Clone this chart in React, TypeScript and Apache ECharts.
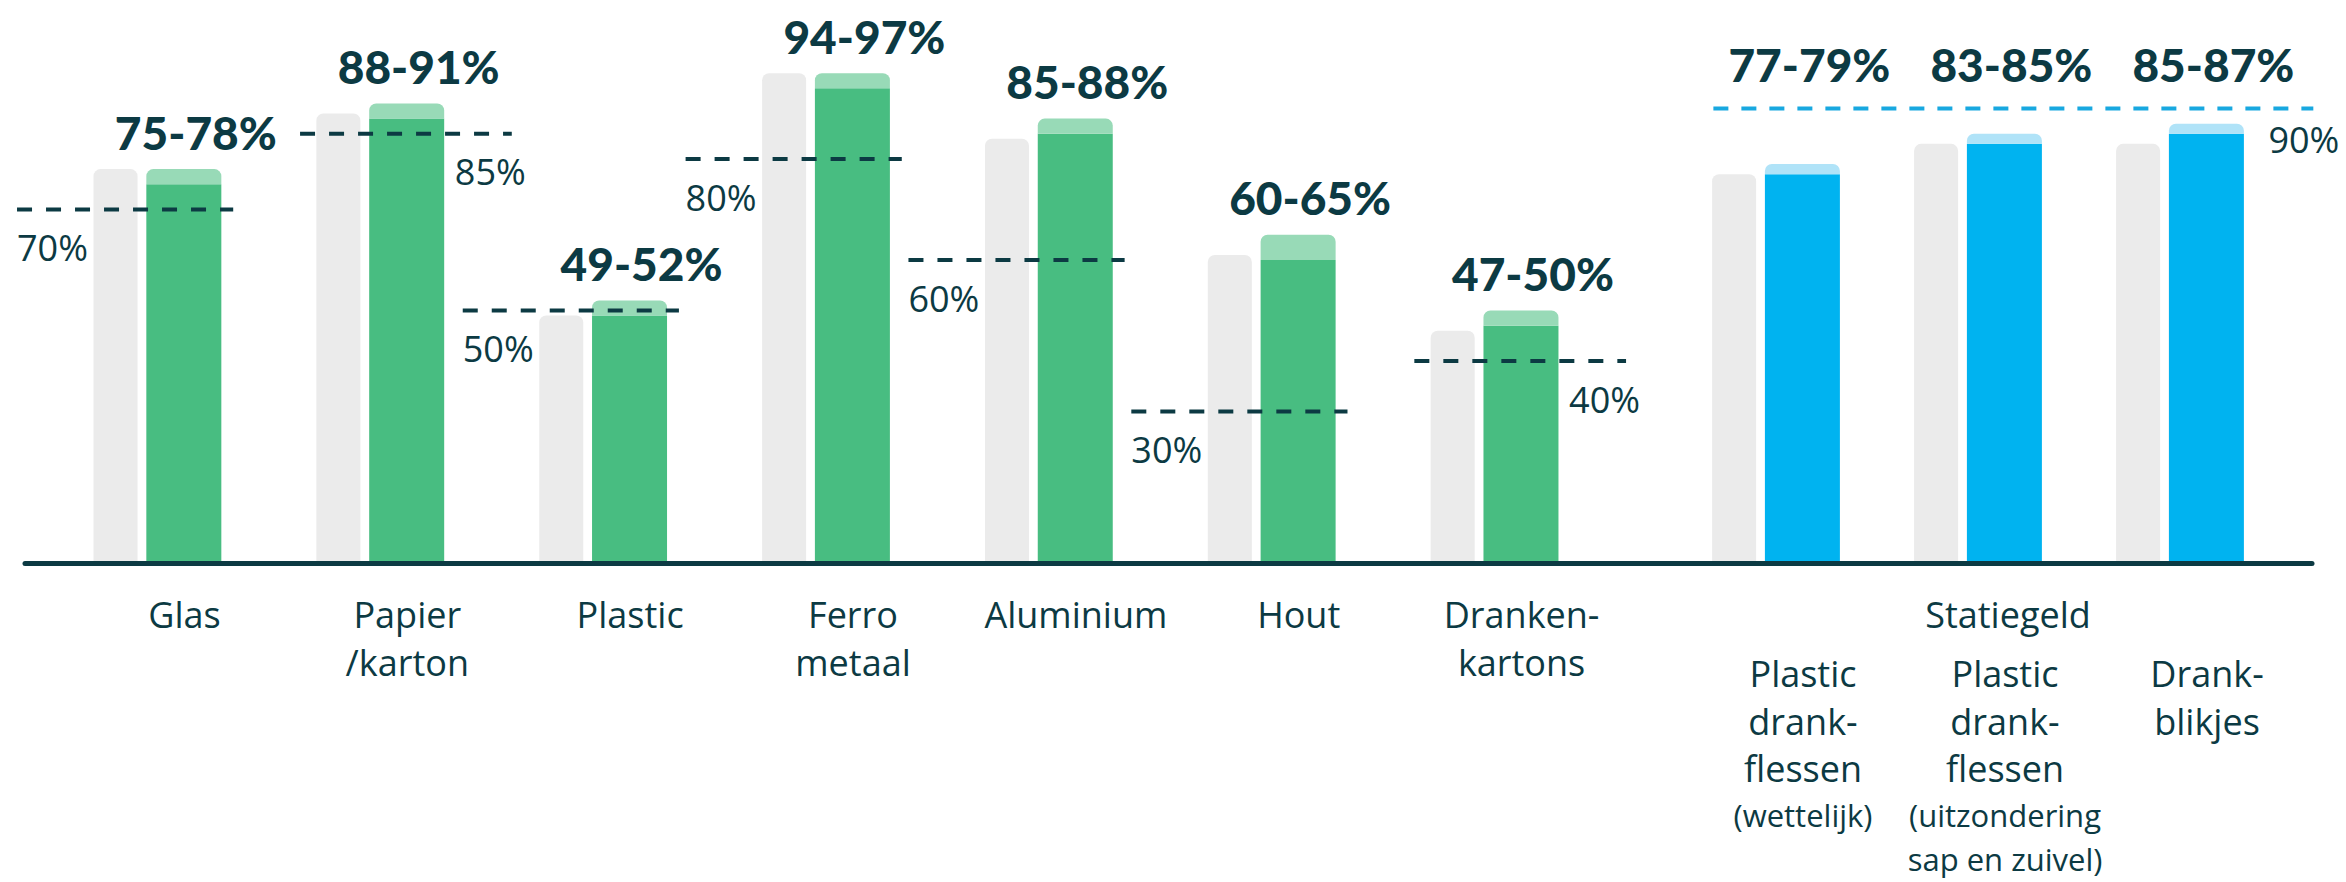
import React, { useEffect, useRef } from "react";
import * as echarts from "echarts";

// ---------- data ----------
const materialCategories = ["Glas", "Papier\n/karton", "Plastic", "Ferro\nmetaal", "Aluminium", "Hout", "Dranken-\nkartons"];
const materialPrevious = [78, 89, 49, 97, 84, 61, 46];
const materialLow = [75, 88, 49, 94, 85, 60, 47];
const materialHigh = [78, 91, 52, 97, 88, 65, 50];
const materialTargets = [70, 85, 50, 80, 60, 30, 40];

const depositGroupName = "Statiegeld";
const depositCategories = [
  "Plastic\ndrank-\nflessen\n(wettelijk)",
  "Plastic\ndrank-\nflessen\n(uitzondering\nsap en zuivel)",
  "Drank-\nblikjes",
];
const depositPrevious = [77, 83, 83];
const depositLow = [77, 83, 85];
const depositHigh = [79, 85, 87];
const depositTarget = 90;

// ---------- styling / layout ----------
const DARK = "#0C3A43";
const GREY = "#EBEBEB";
const GREEN = "#48BD81";
const GREEN_LIGHT = "#98DAB7";
const BLUE = "#00B3F0";
const BLUE_LIGHT = "#B0E3F8";
const BLUE_DASH = "#18A8E0";

const GRID_TOP = 58;
const GRID_BOTTOM = 319;
const GREY_W = 44;
const COLOR_W = 75;
const GAP_RATIO = 0.2;
// centre of coloured bar relative to the category centre (follows ECharts bar layout)
const COLOR_OFFSET = -(GREY_W * (1 + GAP_RATIO) + COLOR_W) / 2 + GREY_W * (1 + GAP_RATIO) + COLOR_W / 2;
const materialTargetSide = ["left", "right", "left", "left", "left", "left", "right"];

const labelFont = { fontFamily: "Open Sans", fontSize: 36, color: DARK };
const rangeFont = { fontFamily: "Lato", fontWeight: 900 as any, fontSize: 46, color: DARK };

function richLabel(value: string) {
  let small = false;
  return value
    .split("\n")
    .map((l) => {
      if (l.startsWith("(")) small = true;
      return small ? `{s|${l}}` : `{m|${l}}`;
    })
    .join("\n");
}

const axisLabelRich = {
  m: { fontFamily: "Open Sans", fontSize: 36, color: DARK, lineHeight: 47.5 },
  s: { fontFamily: "Open Sans", fontSize: 31, color: DARK, lineHeight: 44 },
};

function buildOption(): any {
  const gridCommon = { top: GRID_TOP, bottom: GRID_BOTTOM, containLabel: false, outerBoundsMode: "none" };
  return {
    animation: false,
    backgroundColor: "#ffffff",
    grid: [
      { ...gridCommon, left: 46, right: 740 },
      { ...gridCommon, left: 1675, right: 65 },
      { ...gridCommon, left: 25, right: 34 },
    ],
    xAxis: [
      {
        type: "category",
        gridIndex: 0,
        data: materialCategories,
        axisLine: { show: false },
        axisTick: { show: false },
        axisLabel: {
          interval: 0,
          hideOverlap: false,
          margin: 28,
          padding: [0, 0, 0, 54],
          lineHeight: 47.5,
          formatter: richLabel,
          rich: axisLabelRich,
        },
      },
      {
        type: "category",
        gridIndex: 1,
        data: depositCategories,
        axisLine: { show: false },
        axisTick: { show: false },
        name: depositGroupName,
        nameLocation: "middle",
        nameGap: 28,
        nameMoveOverlap: false,
        nameTextStyle: { ...labelFont, lineHeight: 47.5, padding: [0, 0, 0, 60], verticalAlign: "top" },
        axisLabel: {
          interval: 0,
          hideOverlap: false,
          margin: 87,
          padding: [0, 0, 0, 54],
          lineHeight: 47.5,
          formatter: richLabel,
          rich: axisLabelRich,
        },
      },
      {
        type: "value",
        gridIndex: 2,
        min: 0,
        max: 1,
        z: 10,
        axisLine: { show: true, onZero: false, lineStyle: { color: DARK, width: 5 } },
        axisTick: { show: false },
        axisLabel: { show: false },
        splitLine: { show: false },
      },
    ],
    yAxis: [
      { type: "value", gridIndex: 0, min: 0, max: 100, show: false },
      { type: "value", gridIndex: 1, min: 0, max: 100, show: false },
      { type: "value", gridIndex: 2, min: 0, max: 1, show: false },
    ],
    series: [
      // material group
      {
        type: "bar",
        xAxisIndex: 0,
        yAxisIndex: 0,
        data: materialPrevious,
        barWidth: GREY_W,
        barGap: `${GAP_RATIO * 100}%`,
        itemStyle: { color: GREY, borderRadius: [7, 7, 0, 0] },
      },
      {
        type: "bar",
        xAxisIndex: 0,
        yAxisIndex: 0,
        stack: "material",
        data: materialLow,
        barWidth: COLOR_W,
        itemStyle: { color: GREEN },
      },
      {
        type: "bar",
        xAxisIndex: 0,
        yAxisIndex: 0,
        stack: "material",
        data: materialHigh.map((h, i) => h - materialLow[i]),
        barWidth: COLOR_W,
        itemStyle: { color: GREEN_LIGHT, borderRadius: [7, 7, 0, 0] },
        label: {
          show: true,
          position: "top",
          distance: 14,
          offset: [12, 0],
          ...rangeFont,
          formatter: (p: any) => `${materialLow[p.dataIndex]}-${materialHigh[p.dataIndex]}%`,
        },
      },
      {
        type: "custom",
        xAxisIndex: 0,
        yAxisIndex: 0,
        z: 5,
        clip: false,
        data: materialTargets.map((t, i) => [i, t]),
        renderItem: (params: any, api: any) => {
          const i = api.value(0);
          const v = api.value(1);
          const [cx, cy] = api.coord([i, v]);
          const band = api.size([1, 0])[0];
          const side = materialTargetSide[params.dataIndex];
          const x1 = cx + (side === "left" ? -0.63 : -0.36) * band;
          const x2 = cx + (side === "left" ? 0.34 : 0.59) * band;
          return {
            type: "group",
            children: [
              {
                type: "line",
                shape: { x1, y1: cy, x2, y2: cy },
                style: { stroke: DARK, lineWidth: 4, lineDash: [15, 14] },
              },
              {
                type: "text",
                style: {
                  text: `${materialTargets[params.dataIndex]}%`,
                  x: side === "left" ? x1 : x2 + 14,
                  y: cy + 38,
                  align: side === "left" ? "left" : "right",
                  verticalAlign: "middle",
                  fill: DARK,
                  fontFamily: "Open Sans",
                  fontSize: 36,
                },
              },
            ],
          };
        },
      },
      // deposit group
      {
        type: "bar",
        xAxisIndex: 1,
        yAxisIndex: 1,
        data: depositPrevious,
        barWidth: GREY_W,
        barGap: `${GAP_RATIO * 100}%`,
        itemStyle: { color: GREY, borderRadius: [7, 7, 0, 0] },
      },
      {
        type: "bar",
        xAxisIndex: 1,
        yAxisIndex: 1,
        stack: "deposit",
        data: depositLow,
        barWidth: COLOR_W,
        itemStyle: { color: BLUE },
      },
      {
        type: "bar",
        xAxisIndex: 1,
        yAxisIndex: 1,
        stack: "deposit",
        data: depositHigh.map((h, i) => h - depositLow[i]),
        barWidth: COLOR_W,
        itemStyle: { color: BLUE_LIGHT, borderRadius: [7, 7, 0, 0] },
      },
      {
        type: "custom",
        xAxisIndex: 1,
        yAxisIndex: 1,
        z: 5,
        clip: false,
        data: [[0, depositTarget]],
        renderItem: (params: any, api: any) => {
          const [x0, cy] = api.coord([0, api.value(1)]);
          const [xN] = api.coord([depositCategories.length - 1, api.value(1)]);
          const band = api.size([1, 0])[0];
          const x1 = x0 - 0.31 * band;
          const x2 = xN + 0.66 * band;
          return {
            type: "group",
            children: [
              {
                type: "line",
                shape: { x1, y1: cy, x2, y2: cy },
                style: { stroke: BLUE_DASH, lineWidth: 4, lineDash: [15, 13] },
              },
              {
                type: "text",
                style: {
                  text: `${depositTarget}%`,
                  x: x2 + 26,
                  y: cy + 31,
                  align: "right",
                  verticalAlign: "middle",
                  fill: DARK,
                  fontFamily: "Open Sans",
                  fontSize: 36,
                },
              },
            ],
          };
        },
      },
      {
        type: "custom",
        xAxisIndex: 1,
        yAxisIndex: 1,
        z: 5,
        clip: false,
        data: depositHigh.map((h, i) => [i, h]),
        renderItem: (params: any, api: any) => {
          const [cx] = api.coord([api.value(0), 0]);
          const [, ty] = api.coord([0, depositTarget]);
          const i = params.dataIndex;
          return {
            type: "text",
            style: {
              text: `${depositLow[i]}-${depositHigh[i]}%`,
              x: cx + COLOR_OFFSET + 7,
              y: ty - 44,
              align: "center",
              verticalAlign: "middle",
              fill: DARK,
              fontFamily: "Lato",
              fontWeight: 900,
              fontSize: 46,
            },
          };
        },
      },
    ],
  };
}

export default function App() {
  const ref = useRef<HTMLDivElement>(null);
  useEffect(() => {
    if (!ref.current) return;
    const chart = echarts.init(ref.current, null, { renderer: "svg" });
    chart.setOption(buildOption());
    return () => chart.dispose();
  }, []);
  return (
    <div
      ref={ref}
      style={{ position: "fixed", left: 0, top: 0, width: 2346, height: 882, background: "#ffffff" }}
    />
  );
}
